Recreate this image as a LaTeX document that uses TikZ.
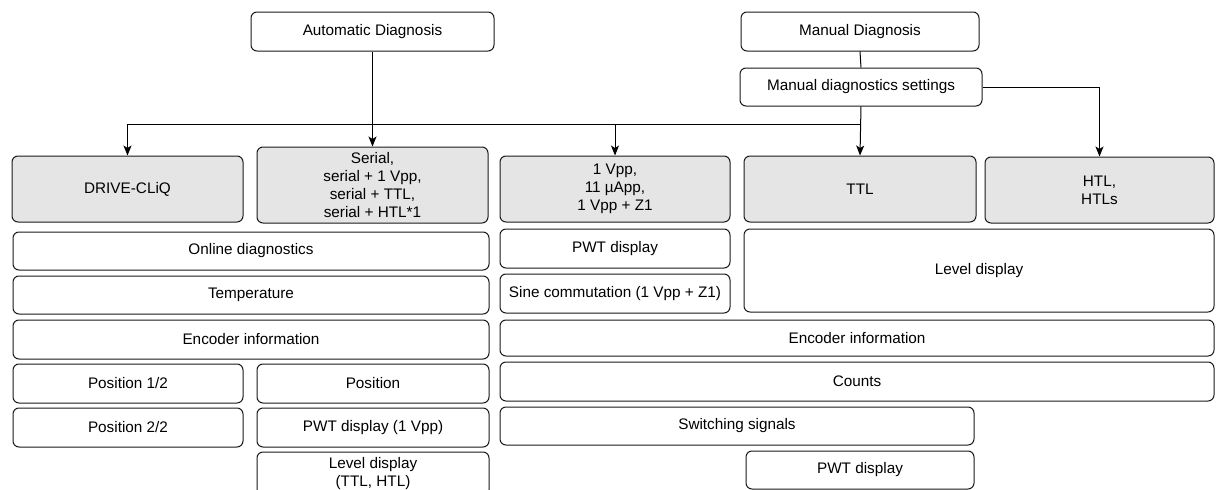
\documentclass[tikz,border=0pt]{standalone}
\usepackage{fontspec}
\setmainfont{Liberation Sans}
\usetikzlibrary{arrows.meta}
\tikzset{
  box/.style={draw=black!90, line width=1pt, rounded corners=6pt, inner sep=0pt, align=center, fill=white},
  greybox/.style={box, fill=black!10},
  conn/.style={line width=1pt, draw=black},
  arr/.style={conn, -{Stealth[length=10pt,width=8pt,inset=2.5pt]}},
}
\newcommand\bx[7][box]{\node[#1, minimum width={(#5-#3)*1pt}, minimum height={(#6-#4)*1pt}] (#2) at ({(#3+#5)/2},{(#4+#6)/2}) {#7};}
\begin{document}
\begin{tikzpicture}[x=1pt,y=-1pt,font=\fontsize{15.3}{18}\selectfont]
\useasboundingbox (0,0) rectangle (1216,490);
% top
\bx{auto}{251}{12}{494}{51}{Automatic Diagnosis}
\bx{man}{741}{12}{979}{51}{Manual Diagnosis}
\bx{set}{740}{68}{982}{106}{Manual diagnostics settings}
% type boxes
\bx[greybox]{drive}{12}{156}{243}{222}{DRIVE-CLiQ}
\bx[greybox]{serial}{257}{147}{488}{223}{Serial,\\serial + 1 Vpp,\\serial + TTL,\\serial + HTL*1}
\bx[greybox]{vpp}{500}{156}{730}{222}{1 Vpp,\\11 µApp,\\1 Vpp + Z1}
\bx[greybox]{ttl}{744}{156}{976}{222}{TTL}
\bx[greybox]{htl}{985}{157}{1214}{223}{HTL,\\HTLs}
% left column
\bx{online}{13}{232}{489}{270}{Online diagnostics}
\bx{temp}{13}{276}{489}{314}{Temperature}
\bx{encl}{13}{320}{489}{359}{Encoder information}
\bx{pos12}{13}{364}{243}{403}{Position 1/2}
\bx{pos}{257}{364}{489}{403}{Position}
\bx{pos22}{13}{408}{243}{447}{Position 2/2}
\bx{pwtv}{257}{408}{489}{447}{PWT display (1 Vpp)}
\bx{lvll}{257}{452}{489}{496}{Level display\\(TTL, HTL)}
% right column
\bx{pwt}{500}{229}{730}{268}{PWT display}
\bx{sine}{500}{274}{730}{313}{Sine commutation (1 Vpp + Z1)}
\bx{lvl}{744}{229}{1214}{312}{Level display}
\bx{encr}{500}{320}{1214}{356}{Encoder information}
\bx{counts}{500}{362}{1214}{401}{Counts}
\bx{switch}{500}{407}{974}{445}{Switching signals}
\bx{pwtb}{746}{451}{974}{489}{PWT display}
% connectors
\coordinate (j) at (set.south |- 0,124);
\draw[arr] (auto.south) -- (auto.south |- serial.north);
\draw[conn] (man.south) -- (set.north);
\draw[arr] (set.south) -- (ttl.north);
\draw[arr] (j) -| (drive.north);
\draw[arr] (j) -| (vpp.north);
\draw[arr] (set.east) -| (htl.north);
\end{tikzpicture}
\end{document}
